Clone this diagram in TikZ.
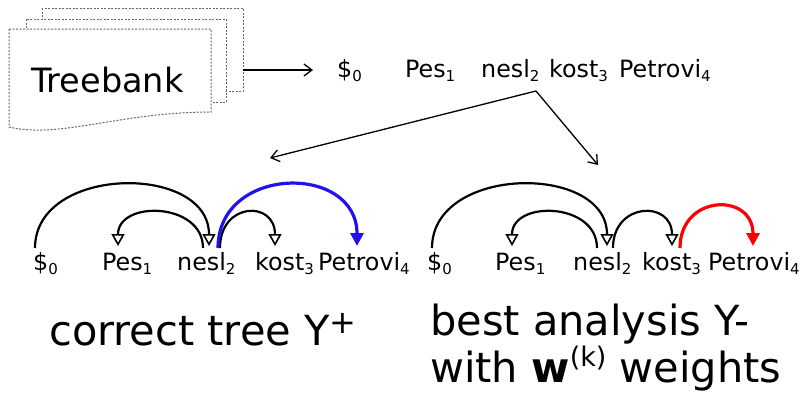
\documentclass[tikz,border=0pt]{standalone}
\usepackage{fontspec}
\setmainfont{DejaVu Sans}
\usetikzlibrary{arrows.meta,calc}
\newcommand\wsub[1]{\raisebox{-4pt}{\fontsize{15}{15}\selectfont #1}}
\begin{document}
\begin{tikzpicture}[x=1pt,y=-1pt,
  word/.style={anchor=base west,inner sep=0pt,font=\fontsize{23.8}{28}\selectfont},
  big/.style={anchor=base west,inner sep=0pt,font=\fontsize{41.5}{48}\selectfont},
  page/.style={draw=gray!80!black,dash pattern=on 2pt off 1.5pt,line width=1pt,fill=white},
  arr/.style={line width=1.3pt,-{Straight Barb[length=8pt,width=12pt,line width=1.3pt]}},
  dep/.style={line width=2.2pt,-{Triangle[open,length=12pt,width=13pt,line width=1.6pt]}},
  depc/.style={line width=3.2pt,-{Triangle[length=13pt,width=13pt]}},
]
\path[use as bounding box] (0,0) rectangle (801,394);
% treebank pages
\draw[page] (42,8) rectangle (243,91);
\draw[page] (26,19) rectangle (226,102);
\draw[page] (9,29) -- (211,29) -- (211,112) .. controls (120,112) and (60,139) .. (9,127) -- cycle;
\node[anchor=base west,inner sep=0pt,font=\fontsize{33.5}{40}\selectfont] (tb) at (31,92) {Treebank};
\coordinate (tbout) at (243,70);
% top sentence
\node[word] (s0) at (337,77) {\$\wsub{0}};
\node[word] (s1) at (405,77) {Pes\wsub{1}};
\node[word] (s2) at (481,77) {nesl\wsub{2}};
\node[word] (s3) at (549,77) {kost\wsub{3}};
\node[word] (s4) at (619,77) {Petrovi\wsub{4}};
\draw[arr] (tbout) -- ($(s0.base west)+(-24,-7)$);
\coordinate (fork) at (536,91);
\coordinate (tl) at (270,158);
\coordinate (tr) at (598,165);
\draw[arr] (fork) -- (tl);
\draw[arr] (fork) -- (tr);
% left tree
\node[word] (a0) at (33,270) {\$\wsub{0}};
\node[word] (a1) at (102,270) {Pes\wsub{1}};
\node[word] (a2) at (177,270) {nesl\wsub{2}};
\node[word] (a3) at (255,270) {kost\wsub{3}};
\node[word] (a4) at (318,270) {Petrovi\wsub{4}};
\draw[dep] ($(a0.base west)+(2,-22)$) .. controls +(0,-83) and +(0,-83) .. ($(a2.base west)+(32,-24)$);
\draw[dep] ($(a2.base west)+(26,-22)$) .. controls +(0,-46) and +(0,-46) .. ($(a1.base west)+(16,-24)$);
\draw[dep] ($(a2.base west)+(43,-22)$) .. controls +(0,-46) and +(0,-46) .. ($(a3.base west)+(20,-24)$);
\draw[depc,draw={rgb,255:red,34;green,17;blue,238}] ($(a2.base west)+(41,-22)$) .. controls +(0,-83) and +(0,-83) .. ($(a4.base west)+(39,-24)$);
% right tree
\node[word] (b0) at (427,270) {\$\wsub{0}};
\node[word] (b1) at (495,270) {Pes\wsub{1}};
\node[word] (b2) at (573,270) {nesl\wsub{2}};
\node[word] (b3) at (642,270) {kost\wsub{3}};
\node[word] (b4) at (708,270) {Petrovi\wsub{4}};
\draw[dep] ($(b0.base west)+(5,-22)$) .. controls +(0,-83) and +(0,-83) .. ($(b2.base west)+(34,-24)$);
\draw[dep] ($(b2.base west)+(24,-22)$) .. controls +(0,-46) and +(0,-46) .. ($(b1.base west)+(17,-24)$);
\draw[dep] ($(b2.base west)+(40,-22)$) .. controls +(0,-46) and +(0,-46) .. ($(b3.base west)+(30,-24)$);
\draw[depc,draw=red] ($(b3.base west)+(38,-22)$) .. controls +(0,-54) and +(0,-54) .. ($(b4.base west)+(45,-24)$);
% captions
\node[big] (c1) at (49,345) {correct tree Y\raisebox{12pt}{\fontsize{32}{32}\selectfont +}};
\node[big] (c2) at (430,335) {best analysis Y-};
\node[big] (c3) at (430,382) {with \textbf{w}\raisebox{16pt}{\fontsize{27}{27}\selectfont (k)} weights};
\end{tikzpicture}
\end{document}
